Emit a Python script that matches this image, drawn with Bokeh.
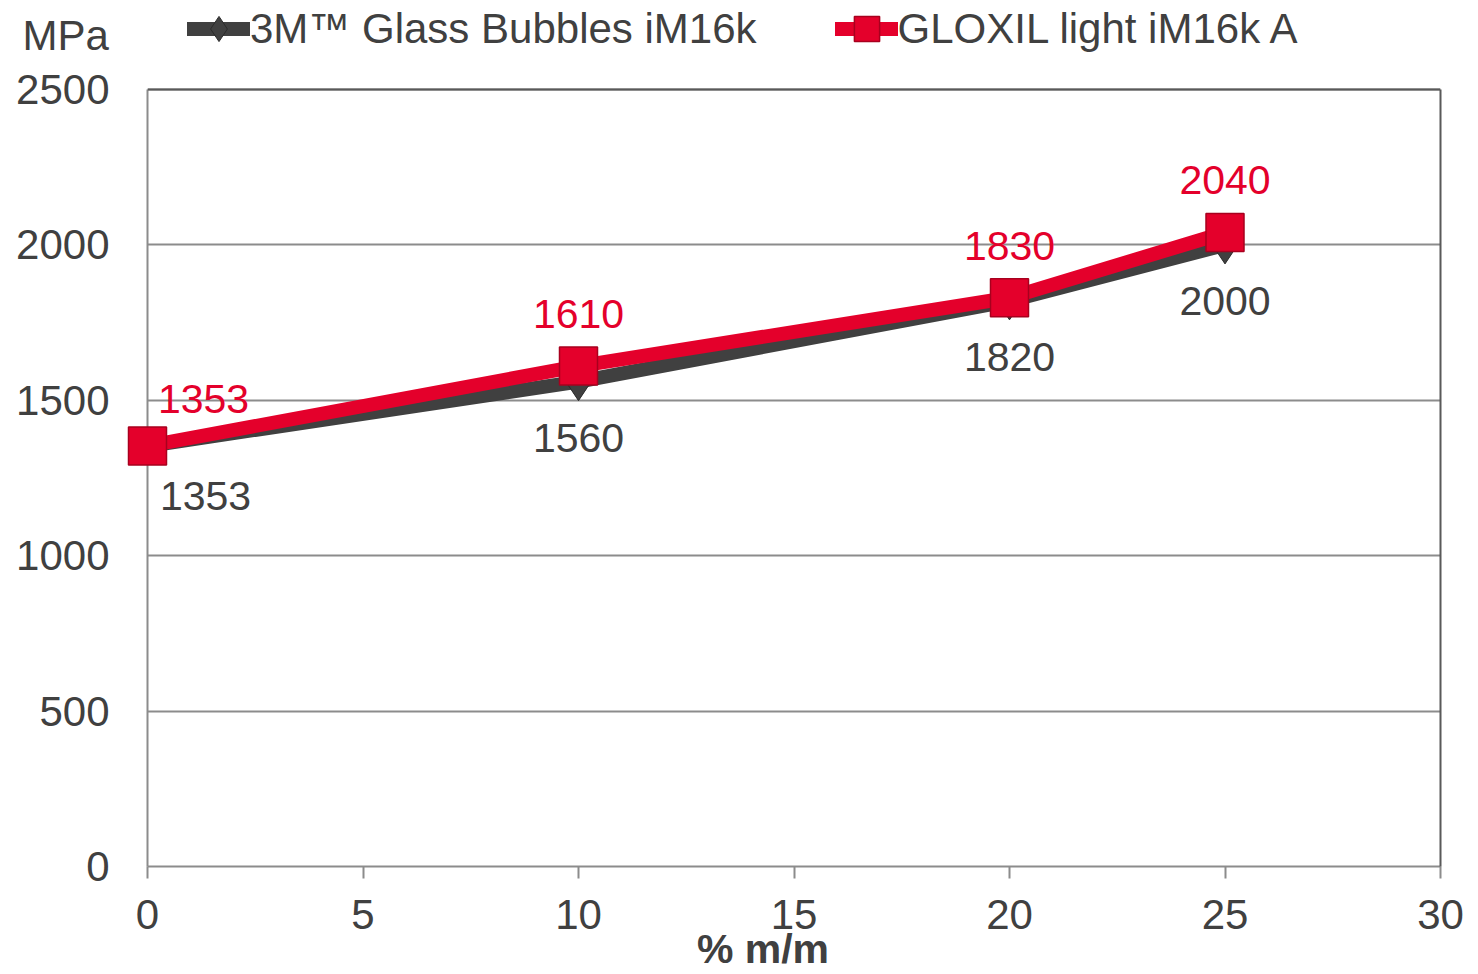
from bokeh.plotting import figure
from bokeh.models import (ColumnDataSource, Range1d, FixedTicker, Legend, LegendItem,
                          LinearAxis, Span)
from bokeh.core.properties import value
from bokeh.embed import file_html
from bokeh.resources import INLINE

# ---- data ----
x_pct = [0, 10, 20, 25]
glass_bubbles = [1353, 1560, 1820, 2000]
gloxil = [1353, 1610, 1830, 2040]
series_names = ["3M\u2122 Glass Bubbles iM16k", "GLOXIL light iM16k A"]
x_ticks = [0, 5, 10, 15, 20, 25, 30]
y_ticks = [0, 500, 1000, 1500, 2000, 2500]
y_unit = "MPa"
x_title = "% m/m"

FONT = "Liberation Sans"
DARK = "#404040"
BORDER = "#595959"
RED = "#E4002B"
GRID = "#8C8C8C"

# frame spans the full height above the x axis; the value axis stops at its top tick
FRAME_H = 866          # px from canvas top to x axis
AXIS_H = 777           # px for the value axis 0..2500
y_top = y_ticks[-1] * FRAME_H / AXIS_H

p = figure(width=1478, height=974, output_backend="svg", toolbar_location=None,
           x_range=Range1d(x_ticks[0], x_ticks[-1]), y_range=Range1d(0, y_top),
           min_border_left=147, min_border_right=38, min_border_top=0, min_border_bottom=108)
p.background_fill_color = "white"
p.border_fill_color = "white"
p.outline_line_color = None

p.xgrid.visible = False
p.ygrid.ticker = FixedTicker(ticks=y_ticks)
p.ygrid.grid_line_color = GRID
p.ygrid.grid_line_width = 2

p.xaxis.ticker = FixedTicker(ticks=x_ticks)
p.yaxis.ticker = FixedTicker(ticks=y_ticks)
for ax in (p.xaxis[0], p.yaxis[0]):
    ax.axis_line_color = GRID
    ax.axis_line_width = 2
    ax.major_label_text_font = FONT
    ax.major_label_text_font_size = "42px"
    ax.major_label_text_color = DARK
    ax.minor_tick_line_color = None
    ax.major_tick_in = 0
p.yaxis.bounds = (y_ticks[0], y_ticks[-1])
p.xaxis.major_tick_out = 12
p.xaxis.major_tick_line_color = GRID
p.xaxis.major_tick_line_width = 2
p.xaxis.major_label_standoff = 21
p.yaxis.major_tick_out = 0
p.yaxis.major_tick_line_color = None
p.yaxis.major_label_standoff = 38

# right and top borders of the plot box
right_axis = LinearAxis(bounds=(y_ticks[0], y_ticks[-1]), ticker=FixedTicker(ticks=[]),
                        axis_line_color=BORDER, axis_line_width=2,
                        major_tick_line_color=None, minor_tick_line_color=None,
                        major_label_text_font_size="0px", major_label_standoff=0,
                        major_tick_out=0, major_tick_in=0)
p.add_layout(right_axis, "right")
p.add_layout(Span(location=y_ticks[-1], dimension="width", line_color=BORDER, line_width=2))

# ---- series ----
src1 = ColumnDataSource(dict(
    x=x_pct, y=glass_bubbles, lab=[str(v) for v in glass_bubbles],
    xo=[58 if v == 0 else 0 for v in x_pct],
    yo=[50 if v == 0 else 56 for v in x_pct]))
src2 = ColumnDataSource(dict(
    x=x_pct, y=gloxil, lab=[str(v) for v in gloxil],
    xo=[56 if v == 0 else 0 for v in x_pct],
    yo=[-47 if v == 0 else -52 for v in x_pct]))

l1 = p.line("x", "y", source=src1, line_color=DARK, line_width=14, line_join="round",
            line_cap="round")
m1 = p.scatter("x", "y", source=src1, marker="diamond", size=38,
               fill_color=DARK, line_color="#2a2a2a", level="overlay")
l2 = p.line("x", "y", source=src2, line_color=RED, line_width=14, line_join="round",
            line_cap="round")
m2 = p.scatter("x", "y", source=src2, marker="square", size=38, fill_color=RED,
               line_color="#A8001E", line_width=1.5, level="overlay")

p.text("x", "y", text="lab", source=src1, x_offset="xo", y_offset="yo",
       text_font=value(FONT), text_font_size="41px", text_color=DARK,
       text_align="center", text_baseline="middle", level="overlay")
p.text("x", "y", text="lab", source=src2, x_offset="xo", y_offset="yo",
       text_font=value(FONT), text_font_size="41px", text_color=RED,
       text_align="center", text_baseline="middle", level="overlay")

# unit label above the value axis
p.text(x=[x_ticks[0]], y=[y_ticks[-1]], text=[y_unit], x_offset=-125, y_offset=-54,
       text_font=value(FONT), text_font_size="42px", text_color=DARK,
       text_align="left", text_baseline="middle", level="overlay")

# x axis title below the tick labels
p.text(x=[(x_ticks[0] + x_ticks[-1]) / 2], y=[y_ticks[0]], text=[x_title],
       x_offset=-31, y_offset=82,
       text_font=value(FONT), text_font_size="41px", text_font_style="bold",
       text_color=DARK, text_align="center", text_baseline="middle", level="overlay")

legend = Legend(items=[LegendItem(label=series_names[0], renderers=[l1, m1]),
                       LegendItem(label=series_names[1], renderers=[l2, m2])],
                location=(40, 805), orientation="horizontal",
                label_text_font=FONT, label_text_font_size="42px", label_text_color=DARK,
                glyph_width=63, glyph_height=65, label_standoff=0, spacing=78,
                padding=0, margin=0, border_line_color=None, background_fill_alpha=0)
p.add_layout(legend, "center")

open("out.html", "w").write(file_html(p, INLINE))
